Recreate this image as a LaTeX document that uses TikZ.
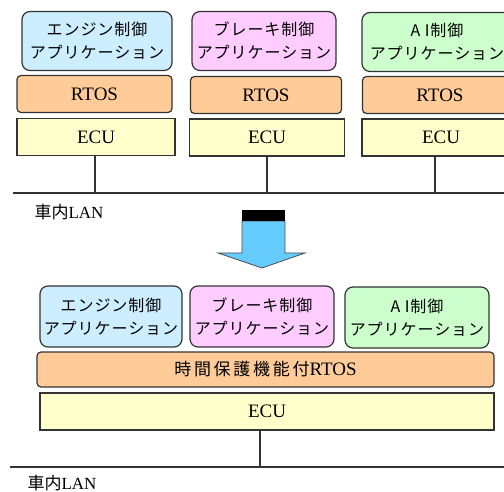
\documentclass[tikz,border=0pt]{standalone}
\usepackage{fontspec}
\setmainfont{Liberation Serif}
\newfontfamily\jp{Noto Sans CJK JP}
\newfontfamily\jpw[LetterSpace=6]{Noto Sans CJK JP}
\begin{document}
\begin{tikzpicture}[x=1pt,y=-1pt,
  box/.style={draw=black!80, line width=1.2pt, inner sep=0pt, align=center},
  appbox/.style={box, rounded corners=8pt, font=\jpw\fontsize{16}{23}\selectfont},
  rtosbox/.style={box, fill=rtosc, rounded corners=4pt, font=\fontsize{19}{21}\selectfont},
  ecubox/.style={box, fill=ecuc, font=\fontsize{19}{21}\selectfont},
  wire/.style={draw=black!80, line width=1.2pt},
  lanlabel/.style={font=\fontsize{17}{18}\selectfont, inner sep=0pt}
]
\definecolor{appa}{HTML}{CCEEFF}
\definecolor{appb}{HTML}{FFCCFF}
\definecolor{appc}{HTML}{CCFFCC}
\definecolor{rtosc}{HTML}{FFCC99}
\definecolor{ecuc}{HTML}{FFFFCC}
\definecolor{arrowc}{HTML}{66CCFF}
\useasboundingbox (0,0) rectangle (504,492);
\clip (0,0) rectangle (504,492);
% ---- top (before) ----
\node[appbox, fill=appa, minimum width=150pt, minimum height=59pt] (a1) at (97,41) {エンジン制御\\アプリケーション};
\node[appbox, fill=appb, minimum width=144pt, minimum height=59pt] (a2) at (264,41) {ブレーキ制御\\アプリケーション};
\node[appbox, fill=appc, minimum width=150pt, minimum height=59pt] (a3) at (437,42) {A I制御\\アプリケーション};
\node[rtosbox, minimum width=155pt, minimum height=37pt] (r1) at (94.5,94) {RTOS};
\node[rtosbox, minimum width=151pt, minimum height=37pt] (r2) at (266,95) {RTOS};
\node[rtosbox, minimum width=155pt, minimum height=37pt] (r3) at (440,95) {RTOS};
\node[ecubox, minimum width=158pt, minimum height=37pt] (e1) at (96,137) {ECU};
\node[ecubox, minimum width=155pt, minimum height=37pt] (e2) at (267,137.5) {ECU};
\node[ecubox, minimum width=158pt, minimum height=37pt] (e3) at (441,137.5) {ECU};
\coordinate (lanL) at (13,193);
\coordinate (lanR) at (504,193);
\draw[wire] (lanL) -- (lanR);
\draw[wire] (e1.south -| 95,0) -- (95,193);
\draw[wire] (e2.south -| 267,0) -- (267,193);
\draw[wire] (e3.south -| 435,0) -- (435,193);
\node[lanlabel] (lan1) at (69,212) {{\jp 車内}LAN};
% ---- arrow ----
\fill[arrowc, draw=black!70, line width=0.8pt] (242,221) -- (285,221) -- (285,253) -- (305,253) -- (262,268) -- (218,253) -- (242,253) -- cycle;
\fill[black] (242,210) rectangle (285,221);
% ---- bottom (after) ----
\node[appbox, fill=appa, minimum width=142pt, minimum height=61pt] (b1) at (111,316.5) {エンジン制御\\アプリケーション};
\node[appbox, fill=appb, minimum width=144pt, minimum height=61pt] (b2) at (262,316.5) {ブレーキ制御\\アプリケーション};
\node[appbox, fill=appc, minimum width=144pt, minimum height=61pt] (b3) at (417,317.5) {A I制御\\アプリケーション};
\node[rtosbox, minimum width=457pt, minimum height=35pt] (br) at (265.5,369.5) {{\jp\fontsize{17}{20}\selectfont\addfontfeature{LetterSpace=16}時間保護機能付}RTOS};
\node[ecubox, minimum width=454pt, minimum height=37pt] (be) at (267,411.5) {ECU};
\coordinate (lan2L) at (10,467);
\coordinate (lan2R) at (504,467);
\draw[wire] (lan2L) -- (lan2R);
\draw[wire] (be.south -| 260,0) -- (260,467);
\node[lanlabel] (lan2) at (62,483) {{\jp 車内}LAN};
\end{tikzpicture}
\end{document}
